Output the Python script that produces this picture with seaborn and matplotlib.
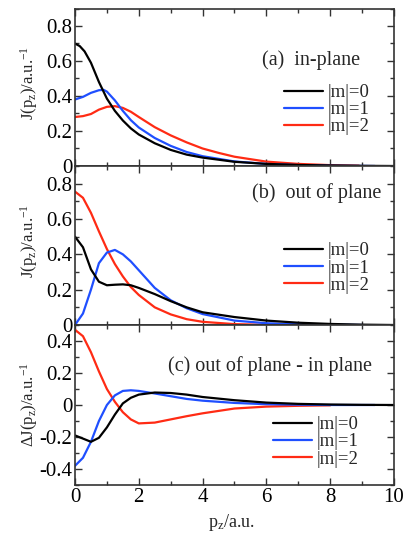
import numpy as np
import pandas as pd
import matplotlib
matplotlib.use("Agg")
import matplotlib.pyplot as plt
import seaborn as sns
from matplotlib.ticker import MultipleLocator, FuncFormatter

# ---------------- data ----------------
# (a) in-plane
pa_m0 = [0, 0.15, 0.3, 0.5, 0.75, 1.0, 1.25, 1.5, 1.75, 2.0, 2.5, 3.0, 3.5, 4.0, 5.0, 6.0, 7.0, 8.0, 9.0, 10.0]
Ja_m0 = [0.70, 0.685, 0.655, 0.59, 0.48, 0.385, 0.315, 0.26, 0.215, 0.18, 0.13, 0.092, 0.065, 0.048, 0.024, 0.012, 0.006, 0.003, 0.001, 0.0]
pa_m1 = [0, 0.25, 0.5, 0.75, 0.9, 1.0, 1.25, 1.5, 1.75, 2.0, 2.5, 3.0, 3.5, 4.0, 5.0, 6.0, 7.0, 8.0, 9.4]
Ja_m1 = [0.38, 0.395, 0.418, 0.433, 0.435, 0.425, 0.375, 0.315, 0.262, 0.22, 0.16, 0.115, 0.08, 0.056, 0.026, 0.012, 0.005, 0.002, 0.0]
pa_m2 = [0, 0.25, 0.5, 0.75, 1.0, 1.25, 1.5, 1.75, 2.0, 2.5, 3.0, 3.5, 4.0, 4.5, 5.0, 6.0, 7.0, 8.0, 8.9]
Ja_m2 = [0.28, 0.285, 0.297, 0.322, 0.338, 0.342, 0.332, 0.31, 0.28, 0.222, 0.175, 0.135, 0.10, 0.075, 0.053, 0.025, 0.012, 0.005, 0.002]

# (b) out of plane
pb_m0 = [0, 0.25, 0.5, 0.75, 1.0, 1.25, 1.5, 1.75, 2.0, 2.5, 3.0, 3.5, 4.0, 5.0, 6.0, 7.0, 8.0, 9.0, 10.0]
Jb_m0 = [0.50, 0.44, 0.315, 0.245, 0.225, 0.228, 0.23, 0.225, 0.21, 0.175, 0.135, 0.10, 0.072, 0.045, 0.025, 0.013, 0.006, 0.002, 0.0]
pb_m1 = [0, 0.25, 0.5, 0.75, 1.0, 1.25, 1.5, 1.75, 2.0, 2.5, 3.0, 3.5, 4.0, 5.0, 6.0, 7.0, 8.0, 9.0]
Jb_m1 = [0.0, 0.065, 0.20, 0.35, 0.41, 0.425, 0.40, 0.36, 0.31, 0.21, 0.14, 0.095, 0.062, 0.025, 0.010, 0.004, 0.002, 0.0]
pb_m2 = [0, 0.25, 0.5, 0.75, 1.0, 1.25, 1.5, 1.75, 2.0, 2.5, 3.0, 3.5, 4.0, 5.0, 6.0, 7.5]
Jb_m2 = [0.755, 0.72, 0.635, 0.53, 0.43, 0.345, 0.275, 0.215, 0.17, 0.10, 0.06, 0.033, 0.018, 0.005, 0.001, 0.0]

# (c) out of plane - in plane
pc_m0 = [0, 0.25, 0.5, 0.75, 1.0, 1.25, 1.5, 1.75, 2.0, 2.5, 3.0, 3.5, 4.0, 5.0, 6.0, 7.0, 8.0, 9.0, 10.0]
Jc_m0 = [-0.19, -0.21, -0.23, -0.205, -0.14, -0.06, 0.01, 0.045, 0.065, 0.078, 0.075, 0.065, 0.05, 0.03, 0.015, 0.007, 0.003, 0.001, 0.0]
pc_m1 = [0, 0.25, 0.5, 0.75, 1.0, 1.25, 1.5, 1.75, 2.0, 2.5, 3.0, 3.5, 4.0, 5.0, 6.0, 7.0, 8.0, 9.4]
Jc_m1 = [-0.38, -0.33, -0.23, -0.10, 0.0, 0.06, 0.088, 0.092, 0.088, 0.072, 0.055, 0.038, 0.027, 0.013, 0.005, 0.002, 0.0, 0.0]
pc_m2 = [0, 0.25, 0.5, 0.75, 1.0, 1.25, 1.5, 1.75, 2.0, 2.5, 3.0, 3.5, 4.0, 5.0, 6.0, 7.0, 8.0]
Jc_m2 = [0.47, 0.43, 0.33, 0.21, 0.10, 0.02, -0.045, -0.09, -0.115, -0.11, -0.09, -0.07, -0.052, -0.022, -0.01, -0.005, -0.002]

labels = ["|m|=0", "|m|=1", "|m|=2"]
colors = ["#000000", "#1f4fff", "#ff2b14"]

panels = [
    dict(p=[pa_m0, pa_m1, pa_m2], J=[Ja_m0, Ja_m1, Ja_m2], ylim=(0, 0.9),
         ylabel=r"J(p$_\mathrm{z}$)/a.u.$^{\mathrm{-1}}$", text="(a)  in-plane"),
    dict(p=[pb_m0, pb_m1, pb_m2], J=[Jb_m0, Jb_m1, Jb_m2], ylim=(0, 0.9),
         ylabel=r"J(p$_\mathrm{z}$)/a.u.$^{\mathrm{-1}}$", text="(b)  out of plane"),
    dict(p=[pc_m0, pc_m1, pc_m2], J=[Jc_m0, Jc_m1, Jc_m2], ylim=(-0.5, 0.5),
         ylabel=r"$\Delta$J(p$_\mathrm{z}$)/a.u.$^{\mathrm{-1}}$", text="(c) out of plane - in plane"),
]

# ---------------- style ----------------
sns.set_theme(style="ticks")
plt.rcParams["font.family"] = ["Liberation Serif", "DejaVu Serif"]
plt.rcParams["mathtext.fontset"] = "custom"
plt.rcParams["mathtext.rm"] = "Liberation Serif"
plt.rcParams["mathtext.it"] = "Liberation Serif:italic"
plt.rcParams["mathtext.sf"] = "Liberation Serif"
plt.rcParams["axes.edgecolor"] = "#333333"
plt.rcParams["xtick.color"] = "#333333"
plt.rcParams["ytick.color"] = "#333333"
plt.rcParams["xtick.labelcolor"] = "black"
plt.rcParams["ytick.labelcolor"] = "black"

fig = plt.figure(figsize=(4.05, 5.35), dpi=100)
left, width = 75 / 405, (394 - 75) / 405
boxes = [(8.5, 166), (166, 325), (325, 485)]

def fmt(v, pos):
    if abs(v) < 1e-9:
        return "0"
    return f"{v:.1f}".replace("\u2212", "-")

text_pos = [(0.585, 0.675), (0.555, 0.83), (0.29, 0.744)]
leg_pos = [(0.655, 0.52), (0.655, 0.52), (0.62, 0.43)]
ylab_y = [0.53, 0.53, 0.5]

for i, (pn, (top, bot)) in enumerate(zip(panels, boxes)):
    ax = fig.add_axes([left, 1 - bot / 535, width, (bot - top) / 535])
    for k in [2, 1, 0]:
        df = pd.DataFrame({"p": pn["p"][k], "J": pn["J"][k]})
        sns.lineplot(data=df, x="p", y="J", ax=ax, color=colors[k], linewidth=1.6,
                     label=labels[k], legend=False)
    hmap = {ln.get_label(): ln for ln in ax.get_lines()}
    ax.set_xlim(0, 10)
    ax.set_ylim(*pn["ylim"])
    ax.xaxis.set_major_locator(MultipleLocator(2))
    ax.xaxis.set_minor_locator(MultipleLocator(1))
    ax.yaxis.set_major_locator(MultipleLocator(0.2))
    ax.yaxis.set_minor_locator(MultipleLocator(0.1))
    ax.yaxis.set_major_formatter(FuncFormatter(fmt))
    ax.tick_params(which="both", direction="in", top=True, right=True, width=1.0)
    ax.tick_params(which="major", length=5, labelsize=15, pad=2)
    ax.tick_params(which="minor", length=3)
    for s in ax.spines.values():
        s.set_linewidth(1.2)
    ax.set_ylabel(pn["ylabel"], fontsize=12)
    ax.yaxis.set_label_coords(-0.11, ylab_y[i])
    if i < 2:
        ax.set_xlabel("")
        ax.tick_params(axis="x", labelbottom=False)
    else:
        ax.set_xlabel(r"p$_\mathrm{z}$/a.u.", fontsize=13)
        ax.xaxis.set_label_coords(0.49, -0.17)
    ax.text(text_pos[i][0], text_pos[i][1], pn["text"], transform=ax.transAxes,
            fontsize=14.5, va="center", ha="left")
    ax.legend(handles=[hmap[l] for l in labels], labels=labels, loc="upper left",
              bbox_to_anchor=leg_pos[i], frameon=False, fontsize=13.5,
              handlelength=2.1, handletextpad=0.25, labelspacing=0.0,
              borderaxespad=0, borderpad=0)

fig.savefig("out.png", dpi=100)
